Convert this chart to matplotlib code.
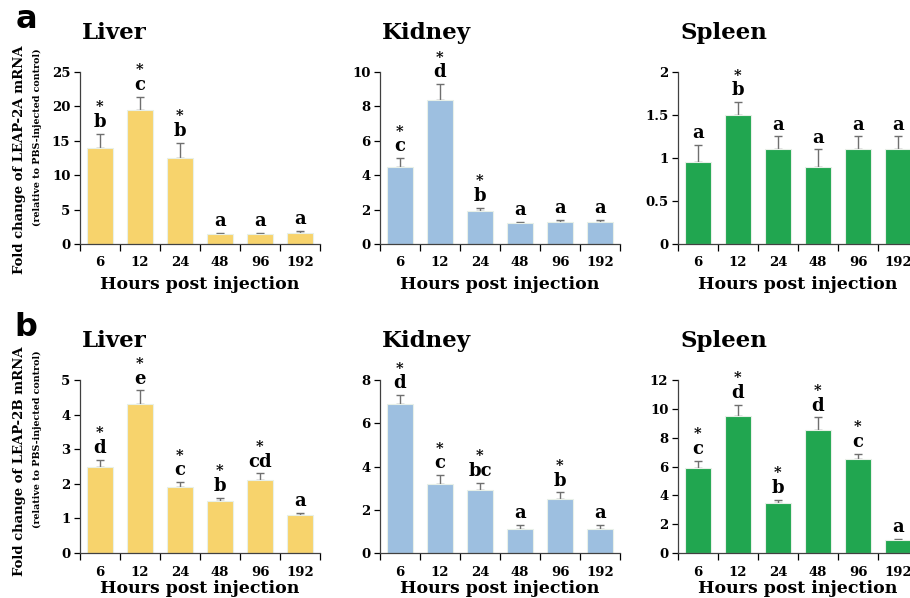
import matplotlib
matplotlib.use("Agg")
import matplotlib.pyplot as plt
import numpy as np

plt.rcParams['font.family'] = ['DejaVu Serif']
plt.rcParams['font.weight'] = 'bold'

hours = ["6", "12", "24", "48", "96", "192"]

# LEAP-2A
a_liver = [13.9, 19.5, 12.5, 1.5, 1.4, 1.6]
a_liver_err = [2.1, 1.9, 2.2, 0.1, 0.2, 0.3]
a_liver_let = ["b", "c", "b", "a", "a", "a"]
a_liver_sig = [1, 1, 1, 0, 0, 0]

a_kidney = [4.5, 8.4, 1.9, 1.2, 1.3, 1.3]
a_kidney_err = [0.5, 0.9, 0.2, 0.1, 0.1, 0.1]
a_kidney_let = ["c", "d", "b", "a", "a", "a"]
a_kidney_sig = [1, 1, 1, 0, 0, 0]

a_spleen = [0.95, 1.5, 1.1, 0.9, 1.1, 1.1]
a_spleen_err = [0.2, 0.15, 0.15, 0.2, 0.15, 0.15]
a_spleen_let = ["a", "b", "a", "a", "a", "a"]
a_spleen_sig = [0, 1, 0, 0, 0, 0]

# LEAP-2B
b_liver = [2.5, 4.3, 1.9, 1.5, 2.1, 1.1]
b_liver_err = [0.2, 0.4, 0.15, 0.1, 0.2, 0.05]
b_liver_let = ["d", "e", "c", "b", "cd", "a"]
b_liver_sig = [1, 1, 1, 1, 1, 0]

b_kidney = [6.9, 3.2, 2.9, 1.1, 2.5, 1.1]
b_kidney_err = [0.4, 0.4, 0.35, 0.2, 0.3, 0.2]
b_kidney_let = ["d", "c", "bc", "a", "b", "a"]
b_kidney_sig = [1, 1, 1, 0, 1, 0]

b_spleen = [5.9, 9.5, 3.5, 8.5, 6.5, 0.9]
b_spleen_err = [0.5, 0.8, 0.2, 0.9, 0.4, 0.1]
b_spleen_let = ["c", "d", "b", "d", "c", "a"]
b_spleen_sig = [1, 1, 1, 1, 1, 0]

yellow = "#F7D36C"
blue = "#9DBFE0"
green = "#21A650"

panels = [
    # row, col, title, values, err, letters, sig, color, ymax, yticks, ylabels
    (0, 0, "Liver", a_liver, a_liver_err, a_liver_let, a_liver_sig, yellow, 25, [0, 5, 10, 15, 20, 25], None),
    (0, 1, "Kidney", a_kidney, a_kidney_err, a_kidney_let, a_kidney_sig, blue, 10, [0, 2, 4, 6, 8, 10], None),
    (0, 2, "Spleen", a_spleen, a_spleen_err, a_spleen_let, a_spleen_sig, green, 2, [0, 0.5, 1, 1.5, 2], ["0", "0.5", "1", "1.5", "2"]),
    (1, 0, "Liver", b_liver, b_liver_err, b_liver_let, b_liver_sig, yellow, 5, [0, 1, 2, 3, 4, 5], None),
    (1, 1, "Kidney", b_kidney, b_kidney_err, b_kidney_let, b_kidney_sig, blue, 8, [0, 2, 4, 6, 8], None),
    (1, 2, "Spleen", b_spleen, b_spleen_err, b_spleen_let, b_spleen_sig, green, 12, [0, 2, 4, 6, 8, 10, 12], None),
]

W, H = 910, 598
fig = plt.figure(figsize=(W / 100, H / 100), dpi=100)

col_left = [80, 380, 678]
row_top = [72, 380]
row_bot = [244, 553]
ax_w = 240

x = np.arange(len(hours))
for row, col, title, vals, err, lets, sig, color, ymax, yt, ytl in panels:
    left = col_left[col]
    ax = fig.add_axes([left / W, 1 - row_bot[row] / H, ax_w / W,
                       (row_bot[row] - row_top[row]) / H])
    ax.bar(x, vals, width=0.65, color=color, edgecolor="#E8F0E8", linewidth=0.8, zorder=2)
    ax.errorbar(x, vals, yerr=[np.zeros(len(vals)), err], fmt="none",
                ecolor="#6F6F6F", elinewidth=1.0, capsize=3, capthick=1.0, zorder=1)
    for i in range(len(vals)):
        top = vals[i] + err[i]
        ax.annotate(lets[i], (x[i], top), xytext=(0, 2), textcoords="offset points",
                    ha="center", va="bottom", fontsize=13, fontweight="bold")
        if sig[i]:
            ax.annotate("*", (x[i], top), xytext=(0, 14), textcoords="offset points",
                        ha="center", va="bottom", fontsize=10.5, fontweight="bold")
    ax.set_xlim(-0.5, 5.5)
    ax.set_ylim(0, ymax)
    ax.set_yticks(yt)
    if ytl:
        ax.set_yticklabels(ytl)
    ax.set_xticks(x)
    ax.set_xticklabels(hours)
    ax.set_xticks(np.arange(-0.5, 6, 1), minor=True)
    ax.tick_params(axis="x", which="major", length=0, pad=9, labelsize=9.5)
    ax.tick_params(axis="x", which="minor", length=5, width=0.9, direction="out")
    ax.tick_params(axis="y", length=4, width=0.9, labelsize=9.5, pad=3)
    for s in ["top", "right"]:
        ax.spines[s].set_visible(False)
    for s in ["left", "bottom"]:
        ax.spines[s].set_color("#404040")
        ax.spines[s].set_linewidth(0.9)
    ax.set_xlabel("Hours post injection", fontsize=12.5, fontweight="bold",
                  labelpad=5 if row == 0 else 1)
    fig.text((left + 2) / W, 1 - (row_top[row] - 39) / H, title, fontsize=16.5,
             fontweight="bold", ha="left", va="center")

ylab_top = [45, 347]
for row, gene in enumerate(["LEAP-2A", "LEAP-2B"]):
    yt_ = 1 - ylab_top[row] / H
    fig.text(20 / W, yt_, "Fold change of " + gene + " mRNA", rotation=90,
             fontsize=9.5, fontweight="bold", ha="center", va="top")
    fig.text(37 / W, 1 - (ylab_top[row] + 3) / H, "(relative to PBS-injected control)",
             rotation=90, fontsize=6.8, fontweight="bold", ha="center", va="top")
    fig.text(26 / W, 1 - (row_top[row] - 52) / H, "ab"[row], fontsize=23,
             fontweight="bold", family="DejaVu Sans", ha="center", va="center")

fig.savefig("out.png", dpi=100)
